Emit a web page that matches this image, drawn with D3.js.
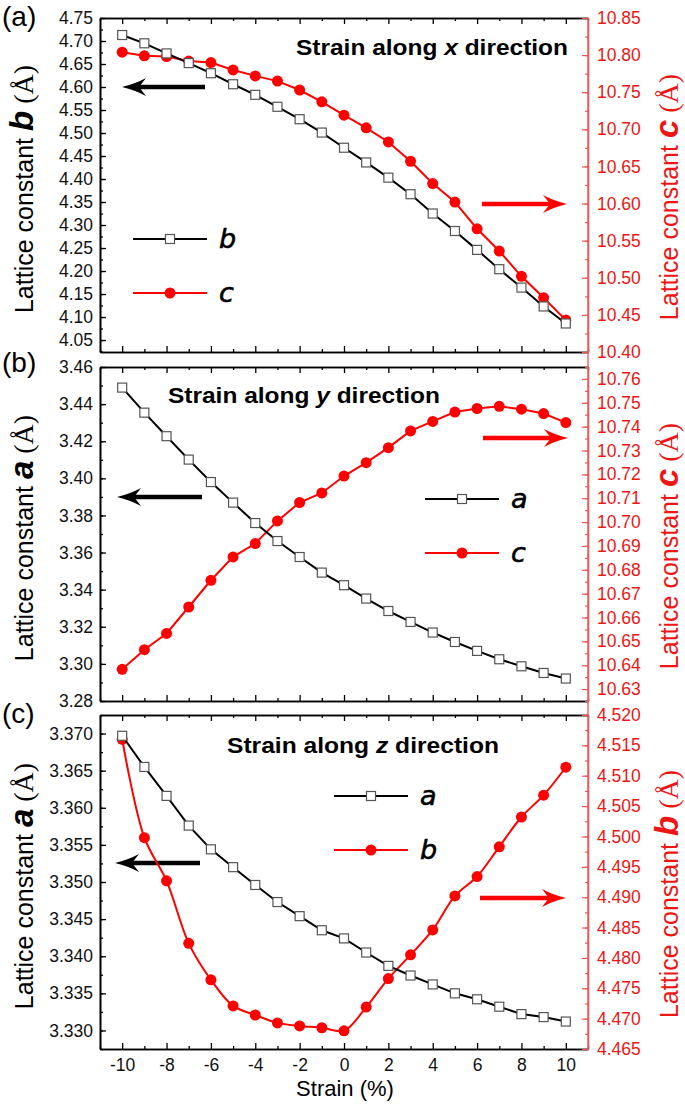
<!DOCTYPE html>
<html><head><meta charset="utf-8">
<script src="https://cdn.jsdelivr.net/npm/d3@7"></script>
<style>
html,body{margin:0;padding:0;background:#fff;}
svg{display:block;font-family:"Liberation Sans",Arial,sans-serif;}
</style></head>
<body>
<svg id="chart" width="685" height="1106"></svg>
<script>
// ---------- data ----------
const strain = [-10,-9,-8,-7,-6,-5,-4,-3,-2,-1,0,1,2,3,4,5,6,7,8,9,10];
const xTicks = [-10,-8,-6,-4,-2,0,2,4,6,8,10];

// panel (a): strain along x
const aB = [4.713,4.695,4.673,4.652,4.630,4.606,4.583,4.557,4.530,4.501,4.468,4.436,4.403,4.367,4.325,4.287,4.246,4.204,4.164,4.123,4.086];
const aC = [10.804,10.799,10.798,10.792,10.790,10.780,10.772,10.765,10.753,10.737,10.719,10.702,10.683,10.657,10.627,10.602,10.566,10.536,10.502,10.473,10.443];
const aLeftTicks = [4.05,4.10,4.15,4.20,4.25,4.30,4.35,4.40,4.45,4.50,4.55,4.60,4.65,4.70,4.75];
const aRightTicks = [10.40,10.45,10.50,10.55,10.60,10.65,10.70,10.75,10.80,10.85];

// panel (b): strain along y
const bA = [3.4489,3.4354,3.4227,3.4101,3.3980,3.3869,3.3759,3.3662,3.3576,3.3492,3.3424,3.3352,3.3285,3.3226,3.3169,3.3118,3.3070,3.3025,3.2987,3.2951,3.2921];
const bC = [10.6383,10.6465,10.6533,10.6644,10.6756,10.6854,10.6910,10.7005,10.7082,10.7122,10.7193,10.7249,10.7312,10.7382,10.7422,10.7461,10.7476,10.7485,10.7473,10.7455,10.7417];
const bLeftTicks = [3.28,3.30,3.32,3.34,3.36,3.38,3.40,3.42,3.44,3.46];
const bRightTicks = [10.63,10.64,10.65,10.66,10.67,10.68,10.69,10.70,10.71,10.72,10.73,10.74,10.75,10.76];

// panel (c): strain along z
const cA = [3.3697,3.3655,3.3616,3.3576,3.3544,3.3520,3.3496,3.3473,3.3454,3.3435,3.3424,3.3405,3.3387,3.3374,3.3362,3.3350,3.3342,3.3332,3.3322,3.3318,3.3312];
const cB = [4.5160,4.4998,4.4927,4.4824,4.4764,4.4721,4.4706,4.4693,4.4688,4.4685,4.4680,4.4719,4.4766,4.4805,4.4846,4.4902,4.4934,4.4983,4.5032,4.5068,4.5114];
const cLeftTicks = [3.330,3.335,3.340,3.345,3.350,3.355,3.360,3.365,3.370];
const cRightTicks = [4.465,4.470,4.475,4.480,4.485,4.490,4.495,4.500,4.505,4.510,4.515,4.520];

// ---------- layout ----------
const RED = "#ff0000", RED_TXT = "#ee1515", RED_AX = "#f05555";
const L = 100, R = 588;
const svg = d3.select("#chart");
const x = d3.scaleLinear().domain([-11, 11]).range([L, R]);
const xMinor = d3.range(-11, 12, 1).filter(v => v % 2 !== 0);

const panels = [
  {id:"(a)", top:18, bot:352, lab:26,
   lDom:[4.024,4.75], rDom:[10.40,10.85], lTicks:aLeftTicks, rTicks:aRightTicks,
   lFmt:".2f", rFmt:".2f", lStep:0.025, rStep:0.025,
   s1:aB, s2:aC, n1:"b", n2:"c", lVar:"b", rVar:"c", dir:"x",
   title:[296,55], legX:133, legY1:239, legY2:293,
   arrL:[205,122,87], arrR:[482,567,204], curve2:d3.curveLinear},
  {id:"(b)", top:367, bot:701, lab:372,
   lDom:[3.28,3.46], rDom:[10.625,10.765], lTicks:bLeftTicks, rTicks:bRightTicks,
   lFmt:".2f", rFmt:".2f", lStep:0.01, rStep:0.005,
   s1:bA, s2:bC, n1:"a", n2:"c", lVar:"a", rVar:"c", dir:"y",
   title:[168,403], legX:425, legY1:499, legY2:553,
   arrL:[202,117,497], arrR:[483,568,438], curve2:d3.curveLinear},
  {id:"(c)", top:715, bot:1049, lab:723,
   lDom:[3.3275,3.3725], rDom:[4.465,4.520], lTicks:cLeftTicks, rTicks:cRightTicks,
   lFmt:".3f", rFmt:".3f", lStep:0.0025, rStep:0.0025,
   s1:cA, s2:cB, n1:"a", n2:"b", lVar:"a", rVar:"b", dir:"z",
   title:[227,753], legX:334, legY1:796, legY2:850,
   arrL:[200,115,863], arrR:[480,566,898], curve2:d3.curveCatmullRom}
];

function minorVals(dom, step){
  const out=[];
  const start=Math.ceil(dom[0]/step - 1e-6);
  for(let i=start;i*step<=dom[1]+1e-9;i++){ out.push(+(i*step).toFixed(5)); }
  return out;
}

function arrow(g, x0, x1, y, color){
  const dir = x1 < x0 ? -1 : 1;
  const hl = 24, hw = 9, notch = 7;
  g.append("line").attr("x1",x0).attr("x2",x1 - dir*(hl-notch)).attr("y1",y).attr("y2",y)
    .attr("stroke",color).attr("stroke-width",4.5);
  g.append("path")
    .attr("d",`M${x1},${y} Q${x1-dir*hl*0.55},${y-hw*0.35} ${x1-dir*hl},${y-hw} L${x1-dir*(hl-notch)},${y} L${x1-dir*hl},${y+hw} Q${x1-dir*hl*0.55},${y+hw*0.35} ${x1},${y} Z`)
    .attr("fill",color);
}

panels.forEach((p, pi) => {
  const g = svg.append("g");
  const yl = d3.scaleLinear().domain(p.lDom).range([p.bot, p.top]);
  const yr = d3.scaleLinear().domain(p.rDom).range([p.bot, p.top]);

  // x axes (bottom and top), ticks inward
  const xb = g.append("g").attr("transform",`translate(0,${p.bot})`)
    .call(d3.axisBottom(x).tickValues(xTicks).tickSize(-6).tickSizeOuter(0).tickPadding(10)
      .tickFormat(pi===2 ? (d => String(d)) : ""));
  g.append("g").attr("transform",`translate(0,${p.bot})`)
    .call(d3.axisBottom(x).tickValues(xMinor).tickSize(-3).tickSizeOuter(0).tickFormat(""));
  g.append("g").attr("transform",`translate(0,${p.top})`)
    .call(d3.axisTop(x).tickValues(xTicks).tickSize(-6).tickSizeOuter(0).tickFormat(""));
  g.append("g").attr("transform",`translate(0,${p.top})`)
    .call(d3.axisTop(x).tickValues(xMinor).tickSize(-3).tickSizeOuter(0).tickFormat(""));

  // left axis
  g.append("g").attr("class","lax").attr("transform",`translate(${L},0)`)
    .call(d3.axisLeft(yl).tickValues(p.lTicks).tickSize(-6).tickSizeOuter(0).tickPadding(7)
      .tickFormat(d3.format(p.lFmt)));
  g.append("g").attr("transform",`translate(${L},0)`)
    .call(d3.axisLeft(yl).tickValues(minorVals(p.lDom,p.lStep)).tickSize(-3).tickSizeOuter(0).tickFormat(""));

  // right axis
  g.append("g").attr("class","rax").attr("transform",`translate(${R},0)`)
    .call(d3.axisRight(yr).tickValues(p.rTicks).tickSize(-6).tickSizeOuter(0).tickPadding(9)
      .tickFormat(d3.format(p.rFmt)));
  g.append("g").attr("class","rax").attr("transform",`translate(${R},0)`)
    .call(d3.axisRight(yr).tickValues(minorVals(p.rDom,p.rStep)).tickSize(-3).tickSizeOuter(0).tickFormat(""));

  g.selectAll(".domain").attr("stroke","#000").attr("stroke-width",1.6);
  g.selectAll(".tick line").attr("stroke","#000").attr("stroke-width",1.3);
  g.selectAll(".tick text").attr("font-size",17.5).attr("font-family","Liberation Sans, Arial, sans-serif").attr("fill","#111");
  g.selectAll(".rax .domain").attr("stroke",RED_AX).attr("stroke-width",1.3);
  g.selectAll(".rax .tick line").attr("stroke",RED_AX).attr("stroke-width",1.2);
  g.selectAll(".rax .tick text").attr("fill",RED_TXT);

  // axis titles
  const lt = g.append("text")
    .attr("transform",`translate(33,${(p.top+p.bot)/2 + 4}) rotate(-90)`)
    .attr("text-anchor","middle").attr("font-size",25).attr("fill","#000");
  lt.append("tspan").text("Lattice constant ");
  lt.append("tspan").text(p.lVar).attr("font-weight","bold").attr("font-style","italic").attr("font-size",33);
  lt.append("tspan").text(" (Å)").attr("font-family","Liberation Serif, serif").attr("font-size",28);

  const rt = g.append("text")
    .attr("transform",`translate(678,${(p.top+p.bot)/2 + 12}) rotate(-90)`)
    .attr("text-anchor","middle").attr("font-size",25).attr("fill",RED_TXT);
  rt.append("tspan").text("Lattice constant ");
  rt.append("tspan").text(p.rVar).attr("font-weight","bold").attr("font-style","italic").attr("font-size",33);
  rt.append("tspan").text(" (Å)").attr("font-family","Liberation Serif, serif").attr("font-size",28);

  // panel label
  g.append("text").attr("x",2).attr("y",p.lab).attr("font-size",28).attr("fill","#000").text(p.id);

  // title
  const tt = g.append("text").attr("x",p.title[0]).attr("y",p.title[1])
    .attr("font-size",21.5).attr("font-weight","bold").attr("fill","#000")
    .attr("textLength",272).attr("lengthAdjust","spacingAndGlyphs");
  tt.append("tspan").text("Strain along ");
  tt.append("tspan").text(p.dir).attr("font-style","italic");
  tt.append("tspan").text(" direction");

  // arrows
  arrow(g, p.arrL[0], p.arrL[1], p.arrL[2], "#000");
  arrow(g, p.arrR[0], p.arrR[1], p.arrR[2], RED);

  // series 2 (red, right axis)
  const line2 = d3.line().x((d,i)=>x(strain[i])).y(d=>yr(d)).curve(p.curve2);
  g.append("path").datum(p.s2).attr("d",line2).attr("fill","none").attr("stroke",RED).attr("stroke-width",2);
  g.selectAll(null).data(p.s2).join("circle")
    .attr("cx",(d,i)=>x(strain[i])).attr("cy",d=>yr(d)).attr("r",5.5).attr("fill",RED);

  // series 1 (black, left axis)
  const line1 = d3.line().x((d,i)=>x(strain[i])).y(d=>yl(d));
  g.append("path").datum(p.s1).attr("d",line1).attr("fill","none").attr("stroke","#000").attr("stroke-width",2);
  g.selectAll(null).data(p.s1).join("rect")
    .attr("x",(d,i)=>x(strain[i])-4.5).attr("y",d=>yl(d)-4.5).attr("width",9).attr("height",9)
    .attr("fill","#fff").attr("stroke","#555").attr("stroke-width",1.2);

  // legend
  const lg = g.append("g");
  lg.append("line").attr("x1",p.legX).attr("x2",p.legX+74).attr("y1",p.legY1).attr("y2",p.legY1).attr("stroke","#000").attr("stroke-width",2);
  lg.append("rect").attr("x",p.legX+37-4.5).attr("y",p.legY1-4.5).attr("width",9).attr("height",9)
    .attr("fill","#fff").attr("stroke","#555").attr("stroke-width",1.2);
  lg.append("text").attr("x",p.legX+86).attr("y",p.legY1+9).attr("font-size",27).attr("font-style","italic")
    .attr("font-family","DejaVu Sans, sans-serif").attr("fill","#000").attr("stroke","#000").attr("stroke-width",0.6).text(p.n1);
  lg.append("line").attr("x1",p.legX).attr("x2",p.legX+74).attr("y1",p.legY2).attr("y2",p.legY2).attr("stroke",RED).attr("stroke-width",2);
  lg.append("circle").attr("cx",p.legX+37).attr("cy",p.legY2).attr("r",5.5).attr("fill",RED);
  lg.append("text").attr("x",p.legX+86).attr("y",p.legY2+9).attr("font-size",27).attr("font-style","italic")
    .attr("font-family","DejaVu Sans, sans-serif").attr("fill","#000").attr("stroke","#000").attr("stroke-width",0.6).text(p.n2);
});

// continuous red right axis line through the panel gaps
svg.append("line").attr("x1",R).attr("x2",R).attr("y1",panels[0].top).attr("y2",panels[2].bot)
  .attr("stroke",RED_AX).attr("stroke-width",1.3);

// x axis title
svg.append("text").attr("x",345).attr("y",1096).attr("text-anchor","middle")
  .attr("font-size",22).attr("fill","#000").text("Strain (%)");
</script>
</body></html>
